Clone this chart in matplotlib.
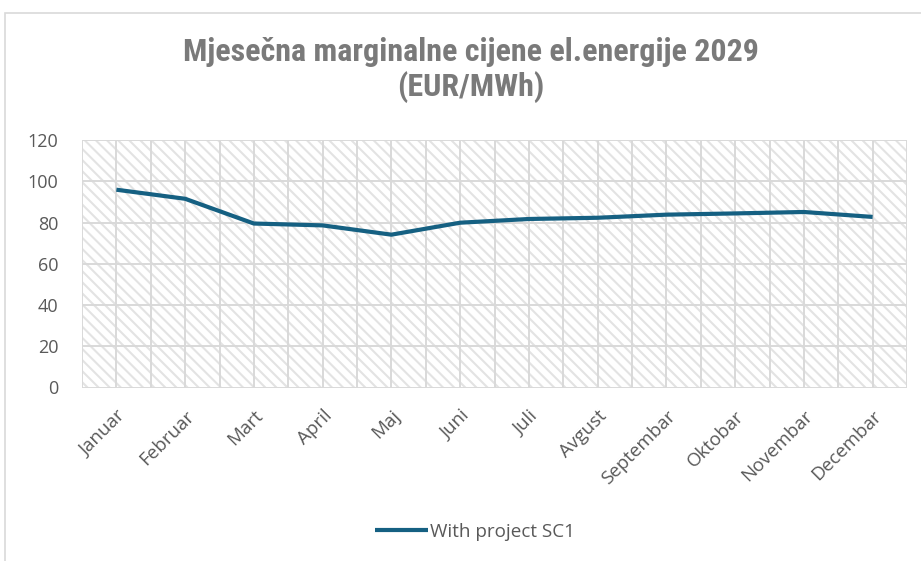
import matplotlib.pyplot as plt
from matplotlib.patches import Rectangle
from matplotlib import font_manager as fm

months = ['Januar', 'Februar', 'Mart', 'April', 'Maj', 'Juni', 'Juli',
          'Avgust', 'Septembar', 'Oktobar', 'Novembar', 'Decembar']
prices = [95.9, 91.5, 79.5, 78.6, 74.1, 79.9, 81.7, 82.3, 83.8, 84.4, 85.1, 82.7]
yticks = [0, 20, 40, 60, 80, 100, 120]
series_name = 'With project SC1'
title = 'Mjesečna marginalne cijene el.energije 2029\n(EUR/MWh)'

names = {f.name for f in fm.fontManager.ttflist}
title_font = [f for f in ['Liberation Sans Narrow', 'Roboto Condensed', 'DejaVu Sans'] if f in names]
body_font = ['Open Sans', 'DejaVu Sans']

plt.rcParams['hatch.color'] = '#e3e3e3'
plt.rcParams['hatch.linewidth'] = 1.5

fig = plt.figure(figsize=(9.21, 5.61), dpi=100)
fig.patch.set_facecolor('white')

# outer chart border
fig.add_artist(Rectangle((5 / 921, -0.1), 1.2, (561 - 13) / 561 + 0.1,
                         transform=fig.transFigure, fill=False,
                         edgecolor='#d9d9d9', lw=1.2))

ax = fig.add_axes([82 / 921, (561 - 387.5) / 561, (907 - 82) / 921, (387.5 - 140) / 561])
x = list(range(len(months)))

ax.set_xlim(-0.5, len(months) - 0.5)
ax.set_ylim(0, 120)

# hatched plot area
ax.add_patch(Rectangle((0, 0), 1, 1, transform=ax.transAxes, facecolor='white',
                       hatch='\\\\\\', edgecolor='#e3e3e3', lw=0, zorder=0))

# grid lines
for v in yticks:
    ax.axhline(v, color='#d9d9d9', lw=1.4, zorder=1)
for i in range(2 * len(months) + 1):
    ax.axvline(-0.5 + i * 0.5, color='#d9d9d9', lw=1.4, zorder=1)

ax.plot(x, prices, color='#156082', lw=3.0, solid_capstyle='butt', zorder=3, label=series_name)

for s in ax.spines.values():
    s.set_visible(False)

ax.set_yticks(yticks)
ax.set_yticklabels([str(v) for v in yticks], fontsize=13, color='#595959', family=body_font)
ax.set_xticks(x)
ax.set_xticklabels(months, rotation=45, ha='right', rotation_mode='anchor',
                   fontsize=13.5, color='#595959', family=body_font)
ax.tick_params(axis='y', length=0, pad=17)
ax.tick_params(axis='x', length=0, pad=14)

fig.text(471 / 921, 1 - 70 / 561, title, ha='center', va='center', fontsize=23,
         fontweight='bold', color='#7a7a7a', family=title_font, linespacing=1.15)

leg = fig.legend(loc='center', bbox_to_anchor=(475 / 921, 1 - 532 / 561), frameon=False,
                 prop={'family': body_font, 'size': 13.6}, handlelength=2.8, handletextpad=0.15)
for t in leg.get_texts():
    t.set_color('#595959')

fig.savefig('out.png', dpi=100, facecolor='white')
